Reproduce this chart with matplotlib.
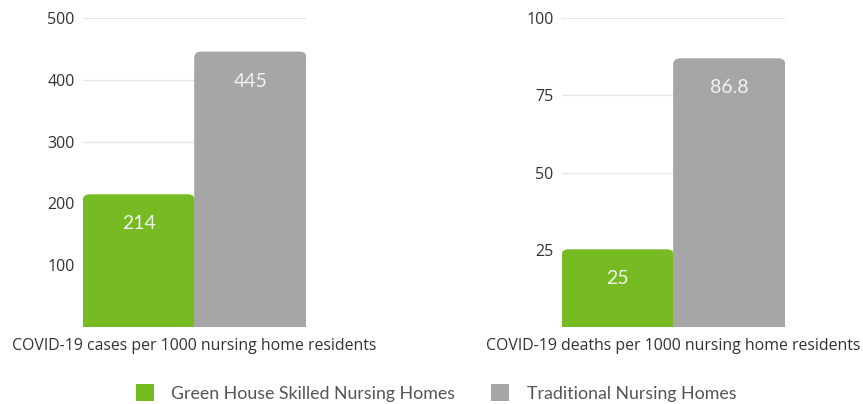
import numpy as np
import matplotlib
matplotlib.use('Agg')
import matplotlib.pyplot as plt
from matplotlib.patches import FancyBboxPatch

groups = ['Green House Skilled Nursing Homes', 'Traditional Nursing Homes']
colors = ['#77bb22', '#a6a6a6']

cases = [214, 445]
cases_labels = ['214', '445']
cases_ticks = [100, 200, 300, 400, 500]

deaths = [25, 86.8]
deaths_labels = ['25', '86.8']
deaths_ticks = [25, 50, 75, 100]

xlabels = ['COVID-19 cases per 1000 nursing home residents',
           'COVID-19 deaths per 1000 nursing home residents']

fig = plt.figure(figsize=(8.63, 4.04), dpi=100)
ax1 = fig.add_axes([83/863, 1 - 327/404, 223/863, 309/404])
ax2 = fig.add_axes([562/863, 1 - 327/404, 223/863, 309/404])


def round_bars(ax, bars, r_px=6):
    # swap plain rectangles for ones with rounded tops
    bb = ax.get_window_extent()
    x0, x1 = ax.get_xlim()
    y0, y1 = ax.get_ylim()
    rx = r_px * (x1 - x0) / bb.width
    ry = r_px * (y1 - y0) / bb.height
    for b in bars:
        x, w, h = b.get_x(), b.get_width(), b.get_height()
        fc = b.get_facecolor()
        b.remove()
        p = FancyBboxPatch((x, -ry * 3), w, h + ry * 3,
                           boxstyle='round,pad=0,rounding_size=%f' % rx,
                           mutation_aspect=ry / rx, fc=fc, ec=fc, lw=0.5,
                           zorder=2)
        ax.add_patch(p)


def panel(ax, vals, labels, ticks, ymax, xlabel):
    bars = ax.bar([0, 1], vals, width=1.0, color=colors, zorder=2)
    ax.set_xlim(-0.5, 1.5)
    ax.set_ylim(0, ymax)
    ax.set_yticks(ticks)
    ax.set_yticklabels([str(t) for t in ticks], fontfamily='Open Sans',
                       fontsize=11.5, color='#333333')
    ax.tick_params(axis='y', length=0, pad=6)
    ax.set_xticks([])
    for s in ax.spines.values():
        s.set_visible(False)
    ax.grid(axis='y', color='#e6e6e6', linewidth=1, zorder=0)
    ax.set_axisbelow(True)
    ax.set_xlabel(xlabel, fontfamily='Open Sans', fontsize=11.4,
                  color='#333333', labelpad=8)
    for i, (v, t) in enumerate(zip(vals, labels)):
        ax.annotate(t, (i, v), xytext=(0, -21), textcoords='offset points',
                    ha='center', va='center', fontfamily='Lato', fontsize=14,
                    color='#f2f2f2', zorder=3)
    round_bars(ax, bars)
    return bars


panel(ax1, cases, cases_labels, cases_ticks, 500, xlabels[0])
panel(ax2, deaths, deaths_labels, deaths_ticks, 100, xlabels[1])

handles = [plt.Rectangle((0, 0), 1, 1, fc=c, ec='none') for c in colors]
fig.legend(handles, groups, loc='center', bbox_to_anchor=(436/863, 1 - 393/404),
           ncol=2, frameon=False, prop={'family': 'Lato', 'size': 12.8},
           handlelength=1.0, handleheight=1.1, handletextpad=1.0,
           columnspacing=2.0, labelcolor='#555555')

fig.savefig('out.png', dpi=100)
